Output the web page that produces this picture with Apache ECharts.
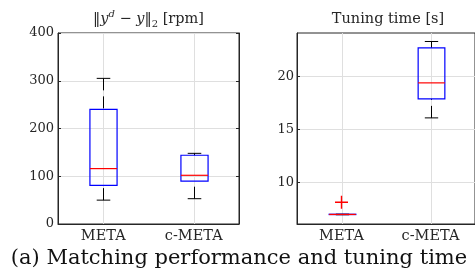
<!DOCTYPE html>
<html lang="en">
<head>
    <meta charset="UTF-8">
    <title>Matching performance and tuning time</title>
    <script src="https://cdn.jsdelivr.net/npm/echarts@6/dist/echarts.min.js"></script>
    <style type="text/css">
        html, body { margin:0; padding:0; background:#fff; }
        #main{ width:475px; height: 273px; }
    </style>
</head>
<body>
<div id="main"></div>
<script type="application/javascript">
    var categories = ['META', 'c-META'];
    // each box: [min, Q1, median, Q3, max]
    var errorStats = [[50, 81, 116, 240, 305], [53, 90, 102, 144, 148]];
    var timeStats = [[6.97, 6.99, 7.0, 7.02, 7.03], [16.1, 17.9, 19.4, 22.7, 23.3]];
    var timeOutliers = [[0, 8.15]];
    var errorTicks = [0, 100, 200, 300, 400];
    var timeTicks = [10, 15, 20];
    var timeRange = [6.1, 24.1];

    var FONT = 'DejaVu Serif';
    var AXIS_COLOR = '#262626';
    var GRID_COLOR = '#dfdfdf';

    var myChart = echarts.init(document.getElementById('main'));

    function toRows(stats) {
        return stats.map(function (s, i) { return [i].concat(s); });
    }

    // MATLAB style box: dashed black whiskers, blue box, red median
    function renderBox(params, api) {
        var idx = api.value(0);
        var x = Math.round(api.coord([idx, api.value(3)])[0]) + 0.5;
        var y = function (d) { return api.coord([idx, api.value(d)])[1]; };
        var bw = api.size([1, 0])[0] * 0.3;
        var cap = bw / 2;
        var cs = params.coordSys;
        var dashed = { stroke: '#000', lineWidth: 1, lineDash: [12, 6] };
        var solid = { stroke: '#000', lineWidth: 1 };
        return {
            type: 'group',
            children: [
                { type: 'line', shape: { x1: x, y1: cs.y, x2: x, y2: cs.y + cs.height }, style: { stroke: GRID_COLOR, lineWidth: 1 } },
                { type: 'line', shape: { x1: x, y1: y(5), x2: x, y2: y(4) }, style: dashed },
                { type: 'line', shape: { x1: x, y1: y(1), x2: x, y2: y(2) }, style: dashed },
                { type: 'line', shape: { x1: x - cap / 2, y1: y(5), x2: x + cap / 2, y2: y(5) }, style: solid },
                { type: 'line', shape: { x1: x - cap / 2, y1: y(1), x2: x + cap / 2, y2: y(1) }, style: solid },
                { type: 'rect', shape: { x: x - bw / 2, y: y(4), width: bw, height: y(2) - y(4) }, style: { fill: 'none', stroke: '#0000ff', lineWidth: 1.2 } },
                { type: 'line', shape: { x1: x - bw / 2, y1: y(3), x2: x + bw / 2, y2: y(3) }, style: { stroke: '#ff0000', lineWidth: 1.2 } }
            ]
        };
    }

    function xAxisFor(gridIndex) {
        return {
            type: 'category', gridIndex: gridIndex, data: categories,
            axisLine: { lineStyle: { color: AXIS_COLOR } },
            axisTick: { inside: true, alignWithLabel: true, length: 3, lineStyle: { color: AXIS_COLOR } },
            axisLabel: { color: '#262626', fontFamily: FONT, fontSize: 14.5, margin: 5 },
            splitLine: { show: false }
        };
    }

    var labelStyle = { color: '#262626', fontFamily: FONT, fontSize: 13 };

    myChart.setOption({
        animation: false,
        grid: [
            { left: 58, top: 33, width: 181, height: 191, show: true, borderColor: AXIS_COLOR, borderWidth: 1, backgroundColor: 'transparent' },
            { left: 297, top: 33, width: 183, height: 191, show: true, borderColor: AXIS_COLOR, borderWidth: 1, backgroundColor: 'transparent' }
        ],
        xAxis: [xAxisFor(0), xAxisFor(1)],
        yAxis: [
            {
                type: 'value', gridIndex: 0,
                min: errorTicks[0], max: errorTicks[errorTicks.length - 1], interval: 100,
                axisLine: { show: true, lineStyle: { color: AXIS_COLOR } },
                axisTick: { show: true, inside: true, length: 3, lineStyle: { color: AXIS_COLOR } },
                axisLabel: Object.assign({ margin: 4 }, labelStyle),
                splitLine: { lineStyle: { color: GRID_COLOR } }
            },
            {
                type: 'value', gridIndex: 1,
                min: timeRange[0], max: timeRange[1],
                axisLine: { show: true, lineStyle: { color: AXIS_COLOR } },
                axisTick: { show: true, inside: true, length: 3, customValues: timeTicks, lineStyle: { color: AXIS_COLOR } },
                axisLabel: Object.assign({ margin: 3, customValues: timeTicks }, labelStyle),
                splitLine: { lineStyle: { color: GRID_COLOR } }
            },
            {
                type: 'value', gridIndex: 0, position: 'right',
                min: errorTicks[0], max: errorTicks[errorTicks.length - 1], interval: 100,
                axisLine: { show: true, lineStyle: { color: AXIS_COLOR } },
                axisTick: { show: true, inside: true, length: 3, lineStyle: { color: AXIS_COLOR } },
                axisLabel: { show: false },
                splitLine: { show: false }
            }
        ],
        graphic: [
            {
                type: 'text', x: 148.5, y: 19,
                style: {
                    text: '{n|\u2016}{i|y}{sup|d}{n| \u2212 }{i|y}{n|\u2016}{sub|2}{n| [rpm]}',
                    align: 'center', verticalAlign: 'middle',
                    rich: {
                        n: { fontFamily: FONT, fontSize: 14.5, fill: '#262626', lineHeight: 20 },
                        i: { fontFamily: FONT, fontSize: 14.5, fontStyle: 'italic', fill: '#262626', lineHeight: 20 },
                        sup: { fontFamily: FONT, fontSize: 10, fontStyle: 'italic', fill: '#262626', lineHeight: 20, verticalAlign: 'top' },
                        sub: { fontFamily: FONT, fontSize: 10, fill: '#262626', lineHeight: 20, verticalAlign: 'bottom' }
                    }
                }
            },
            {
                type: 'text', x: 388, y: 19,
                style: { text: 'Tuning time [s]', fontFamily: FONT, fontSize: 14.5, fill: '#262626', align: 'center', verticalAlign: 'middle' }
            },
            {
                type: 'text', x: 239, y: 259,
                style: { text: '(a) Matching performance and tuning time', fontFamily: FONT, fontSize: 21, fill: '#111', align: 'center', verticalAlign: 'middle' }
            }
        ],
        series: [
            {
                type: 'custom', xAxisIndex: 0, yAxisIndex: 0,
                renderItem: renderBox,
                encode: { x: 0, y: [1, 2, 3, 4, 5] },
                data: toRows(errorStats)
            },
            {
                type: 'custom', xAxisIndex: 1, yAxisIndex: 1,
                renderItem: renderBox,
                encode: { x: 0, y: [1, 2, 3, 4, 5] },
                data: toRows(timeStats)
            },
            {
                type: 'scatter', xAxisIndex: 1, yAxisIndex: 1,
                symbol: 'path://M0,6H12M6,0V12', symbolSize: 13,
                itemStyle: { color: 'none', borderColor: '#ff0000', borderWidth: 1.4, opacity: 1 },
                data: timeOutliers
            }
        ]
    });
</script>
</body>
</html>
